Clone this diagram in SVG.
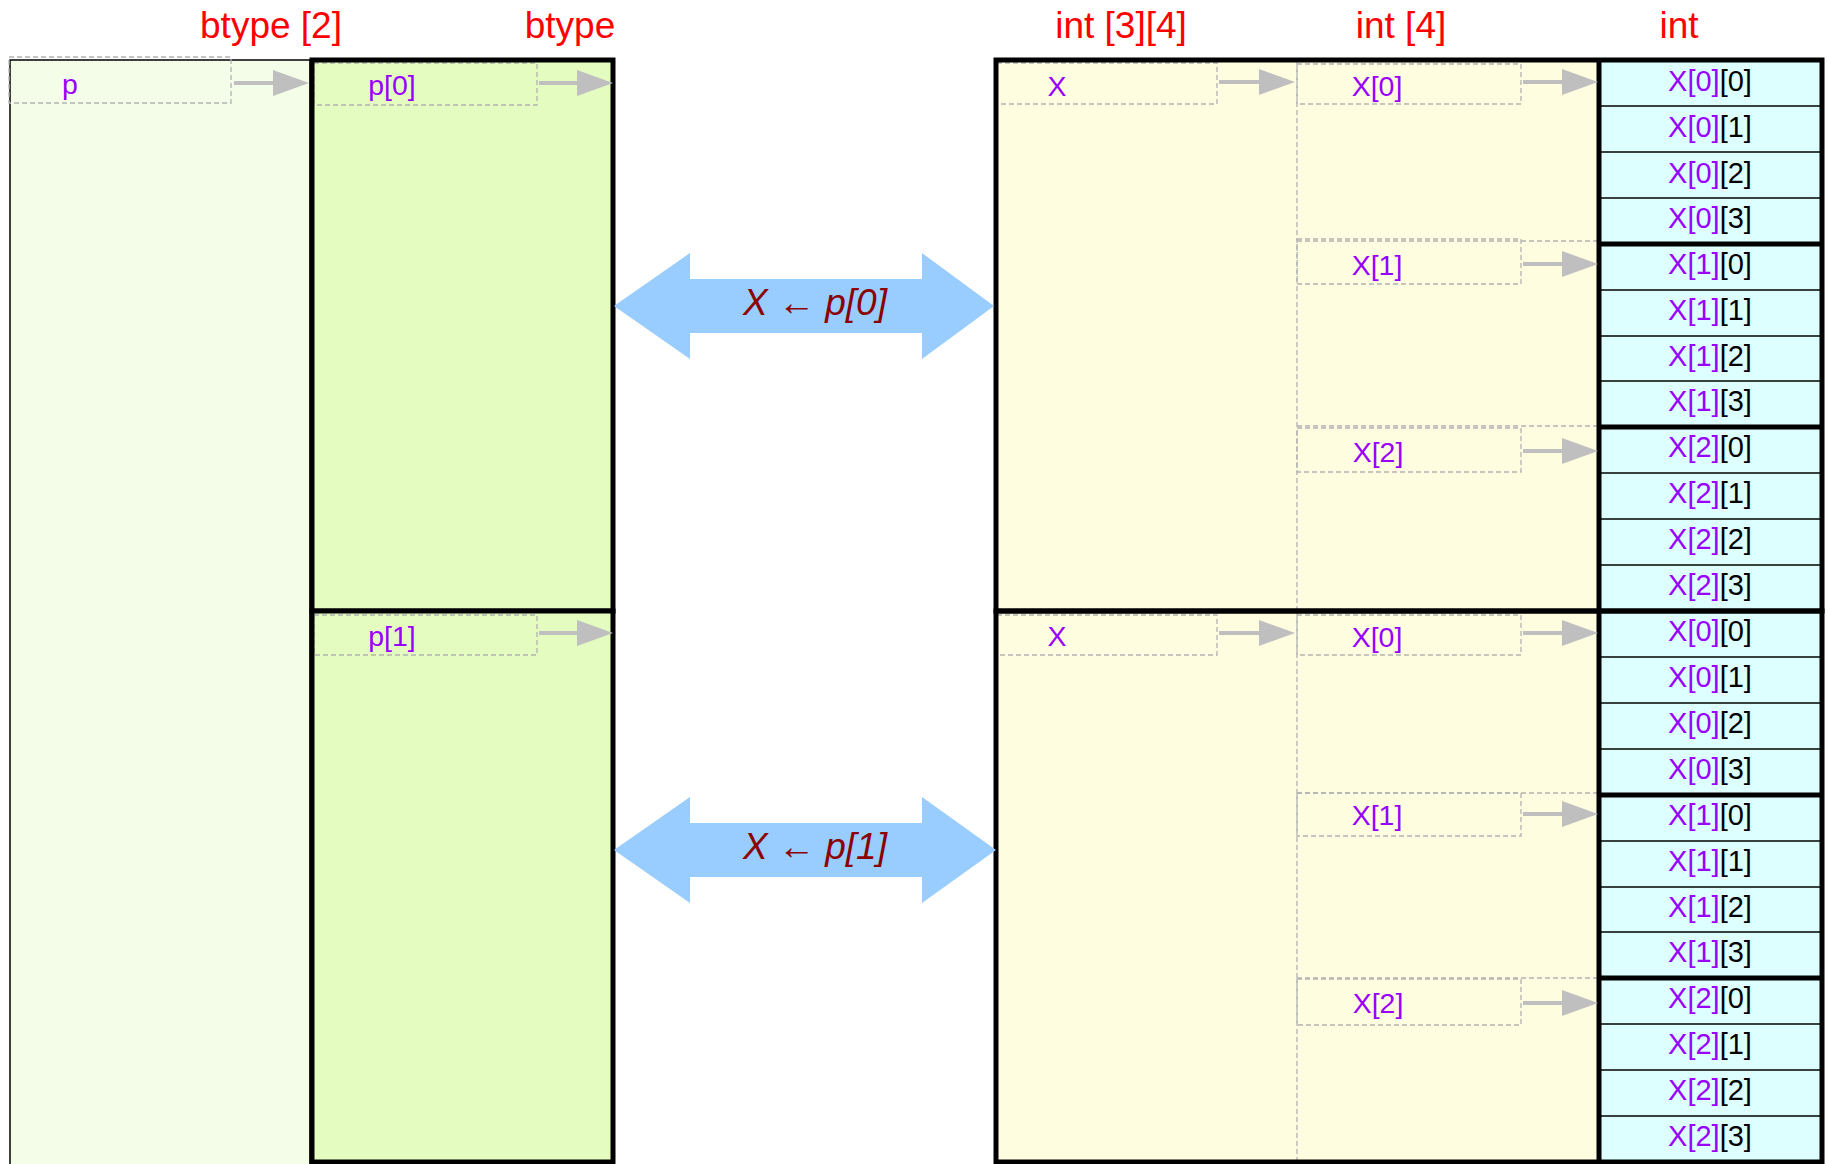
<svg xmlns="http://www.w3.org/2000/svg" width="1828" height="1164" viewBox="0 0 1828 1164">
<style>
.hdr{font-family:"Liberation Sans",Arial,sans-serif;font-size:37px;fill:#ff0000;text-anchor:middle}
.lbl{font-family:"Liberation Sans",Arial,sans-serif;font-size:28.5px;fill:#9900ff;text-anchor:middle}
.cell{font-family:"Liberation Sans",Arial,sans-serif;font-size:29px;fill:#000;text-anchor:middle}
.pp{fill:#9900ff}
.big{font-family:"Liberation Sans",Arial,sans-serif;font-size:37px;font-style:italic;fill:#8b0000;text-anchor:middle}
.dash{fill:none;stroke:#b3b3b3;stroke-width:1.3;stroke-dasharray:5 3}
.thick{fill:none;stroke:#000;stroke-width:5}
.thin{stroke:#000;stroke-width:1.5}
.arr{stroke:#bfbfbf;stroke-width:4;fill:none;marker-end:url(#ah)}
.dbl{fill:#99ccff}
</style>
<defs>
<marker id="ah" markerUnits="userSpaceOnUse" markerWidth="36" markerHeight="26" refX="0" refY="13" orient="auto" overflow="visible">
<path d="M0,0 L36,13 L0,26 Z" fill="#bfbfbf"/>
</marker>
</defs>
<rect width="1828" height="1164" fill="#ffffff"/>

<g id="headers">
<text class="hdr" x="271" y="38">btype [2]</text>
<text class="hdr" x="570" y="38">btype</text>
<text class="hdr" x="1121" y="38">int [3][4]</text>
<text class="hdr" x="1401" y="38">int [4]</text>
<text class="hdr" x="1679" y="38">int</text>
</g>

<g id="node-p">
<rect x="10" y="60" width="300" height="1120" fill="#f3fde8" stroke="#000" stroke-width="1.5"/>
<rect class="dash" x="9" y="57" width="222" height="46"/>
<text class="lbl" x="70" y="94">p</text>
</g>

<g id="node-p0">
<rect x="312" y="60" width="301" height="551" fill="#e4fcc0"/>
<rect class="dash" x="314" y="63" width="223" height="42"/>
<text class="lbl" x="392" y="95">p[0]</text>
<rect class="thick" x="312" y="60" width="301" height="551"/>
</g>

<g id="node-p1">
<rect x="312" y="611" width="301" height="551" fill="#e4fcc0"/>
<rect class="dash" x="314" y="615" width="223" height="40"/>
<text class="lbl" x="392" y="646">p[1]</text>
<rect class="thick" x="312" y="611" width="301" height="551"/>
</g>

<g id="node-X-top">
<rect x="996" y="60" width="603" height="551" fill="#fffde0"/>
<rect class="dash" x="997" y="63" width="220" height="41"/>
<text class="lbl" x="1057" y="96">X</text>
<line class="dash" x1="1297" y1="62" x2="1297" y2="609"/>
</g>
<g id="node-X0-top">
<rect class="dash" x="1297" y="64" width="224" height="40"/>
<text class="lbl" x="1377" y="96">X[0]</text>
</g>
<g id="node-X1-top">
<line class="dash" x1="1297" y1="241" x2="1597" y2="241"/>
<rect class="dash" x="1297" y="239" width="224" height="45"/>
<text class="lbl" x="1377" y="275">X[1]</text>
</g>
<g id="node-X2-top">
<line class="dash" x1="1297" y1="426" x2="1597" y2="426"/>
<rect class="dash" x="1297" y="428" width="224" height="44"/>
<text class="lbl" x="1378" y="462">X[2]</text>
</g>

<g id="node-X-bot">
<rect x="996" y="611" width="603" height="551" fill="#fffde0"/>
<rect class="dash" x="997" y="615" width="220" height="40"/>
<text class="lbl" x="1057" y="646">X</text>
<line class="dash" x1="1297" y1="613" x2="1297" y2="1160"/>
</g>
<g id="node-X0-bot">
<rect class="dash" x="1297" y="615" width="224" height="40"/>
<text class="lbl" x="1377" y="647">X[0]</text>
</g>
<g id="node-X1-bot">
<line class="dash" x1="1297" y1="793" x2="1597" y2="793"/>
<rect class="dash" x="1297" y="793" width="224" height="43"/>
<text class="lbl" x="1377" y="825">X[1]</text>
</g>
<g id="node-X2-bot">
<line class="dash" x1="1297" y1="978" x2="1597" y2="978"/>
<rect class="dash" x="1297" y="979" width="224" height="46"/>
<text class="lbl" x="1378" y="1013">X[2]</text>
</g>

<g id="node-int-top">
<rect x="1599" y="60" width="223" height="551" fill="#ddffff"/>
<g class="thin">
<line x1="1599" y1="106" x2="1822" y2="106"/><line x1="1599" y1="152" x2="1822" y2="152"/><line x1="1599" y1="198" x2="1822" y2="198"/>
<line x1="1599" y1="290" x2="1822" y2="290"/><line x1="1599" y1="336" x2="1822" y2="336"/><line x1="1599" y1="381" x2="1822" y2="381"/>
<line x1="1599" y1="473" x2="1822" y2="473"/><line x1="1599" y1="519" x2="1822" y2="519"/><line x1="1599" y1="565" x2="1822" y2="565"/>
</g>
<line x1="1599" y1="244" x2="1822" y2="244" stroke="#000" stroke-width="5"/>
<line x1="1599" y1="427" x2="1822" y2="427" stroke="#000" stroke-width="5"/>
<line x1="1599" y1="60" x2="1599" y2="611" stroke="#000" stroke-width="5"/>
<text class="cell" x="1710" y="91"><tspan class="pp">X[0]</tspan>[0]</text>
<text class="cell" x="1710" y="137"><tspan class="pp">X[0]</tspan>[1]</text>
<text class="cell" x="1710" y="183"><tspan class="pp">X[0]</tspan>[2]</text>
<text class="cell" x="1710" y="228"><tspan class="pp">X[0]</tspan>[3]</text>
<text class="cell" x="1710" y="274"><tspan class="pp">X[1]</tspan>[0]</text>
<text class="cell" x="1710" y="320"><tspan class="pp">X[1]</tspan>[1]</text>
<text class="cell" x="1710" y="366"><tspan class="pp">X[1]</tspan>[2]</text>
<text class="cell" x="1710" y="411"><tspan class="pp">X[1]</tspan>[3]</text>
<text class="cell" x="1710" y="457"><tspan class="pp">X[2]</tspan>[0]</text>
<text class="cell" x="1710" y="503"><tspan class="pp">X[2]</tspan>[1]</text>
<text class="cell" x="1710" y="549"><tspan class="pp">X[2]</tspan>[2]</text>
<text class="cell" x="1710" y="595"><tspan class="pp">X[2]</tspan>[3]</text>
</g>

<g id="node-int-bot">
<rect x="1599" y="611" width="223" height="551" fill="#ddffff"/>
<g class="thin">
<line x1="1599" y1="657" x2="1822" y2="657"/><line x1="1599" y1="703" x2="1822" y2="703"/><line x1="1599" y1="749" x2="1822" y2="749"/>
<line x1="1599" y1="841" x2="1822" y2="841"/><line x1="1599" y1="887" x2="1822" y2="887"/><line x1="1599" y1="932" x2="1822" y2="932"/>
<line x1="1599" y1="1024" x2="1822" y2="1024"/><line x1="1599" y1="1070" x2="1822" y2="1070"/><line x1="1599" y1="1116" x2="1822" y2="1116"/>
</g>
<line x1="1599" y1="795" x2="1822" y2="795" stroke="#000" stroke-width="5"/>
<line x1="1599" y1="978" x2="1822" y2="978" stroke="#000" stroke-width="5"/>
<line x1="1599" y1="611" x2="1599" y2="1162" stroke="#000" stroke-width="5"/>
<text class="cell" x="1710" y="641"><tspan class="pp">X[0]</tspan>[0]</text>
<text class="cell" x="1710" y="687"><tspan class="pp">X[0]</tspan>[1]</text>
<text class="cell" x="1710" y="733"><tspan class="pp">X[0]</tspan>[2]</text>
<text class="cell" x="1710" y="779"><tspan class="pp">X[0]</tspan>[3]</text>
<text class="cell" x="1710" y="825"><tspan class="pp">X[1]</tspan>[0]</text>
<text class="cell" x="1710" y="871"><tspan class="pp">X[1]</tspan>[1]</text>
<text class="cell" x="1710" y="917"><tspan class="pp">X[1]</tspan>[2]</text>
<text class="cell" x="1710" y="962"><tspan class="pp">X[1]</tspan>[3]</text>
<text class="cell" x="1710" y="1008"><tspan class="pp">X[2]</tspan>[0]</text>
<text class="cell" x="1710" y="1054"><tspan class="pp">X[2]</tspan>[1]</text>
<text class="cell" x="1710" y="1100"><tspan class="pp">X[2]</tspan>[2]</text>
<text class="cell" x="1710" y="1146"><tspan class="pp">X[2]</tspan>[3]</text>
</g>

<g id="frames">
<rect class="thick" x="996" y="60" width="826" height="551"/>
<rect class="thick" x="996" y="611" width="826" height="551"/>
</g>

<g id="connectors">
<line class="arr" x1="234" y1="83" x2="273" y2="83"/>
<line class="arr" x1="539" y1="83" x2="577" y2="83"/>
<line class="arr" x1="539" y1="633" x2="577" y2="633"/>
<line class="arr" x1="1219" y1="82" x2="1259" y2="82"/>
<line class="arr" x1="1219" y1="633" x2="1259" y2="633"/>
<line class="arr" x1="1523" y1="82" x2="1562" y2="82"/>
<line class="arr" x1="1523" y1="264" x2="1562" y2="264"/>
<line class="arr" x1="1523" y1="451" x2="1562" y2="451"/>
<line class="arr" x1="1523" y1="633" x2="1562" y2="633"/>
<line class="arr" x1="1523" y1="814" x2="1562" y2="814"/>
<line class="arr" x1="1523" y1="1003" x2="1562" y2="1003"/>
<path class="dbl" d="M614,306 L690,253 L690,279 L922,279 L922,253 L994,306 L922,359 L922,333 L690,333 L690,359 Z"/>
<text class="big" x="815" y="315">X ← p[0]</text>
<path class="dbl" d="M614,850 L690,797 L690,823 L922,823 L922,797 L996,850 L922,903 L922,877 L690,877 L690,903 Z"/>
<text class="big" x="815" y="859">X ← p[1]</text>
</g>
</svg>
